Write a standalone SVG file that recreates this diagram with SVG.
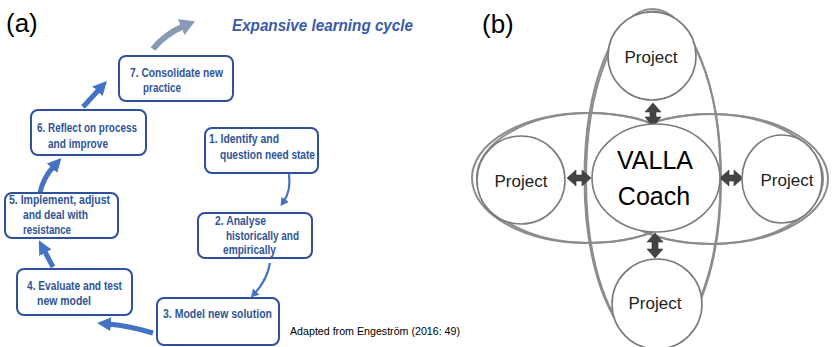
<svg xmlns="http://www.w3.org/2000/svg" width="833" height="347" viewBox="0 0 833 347">
<style>
.lbl{font-family:"Liberation Sans",Arial,sans-serif;fill:#000}
.box{fill:#fff;stroke:#2F509C;stroke-width:2}
.bt{font-family:"Liberation Sans",Arial,sans-serif;font-weight:bold;font-size:12.5px;fill:#2F5597}
.thick{fill:none;stroke:#4472C4;stroke-width:5}
.thin{fill:none;stroke:#4472C4;stroke-width:2.2}
.ring{fill:none;stroke:#8C8C8C;stroke-width:2}
.circ{fill:#fff;stroke:#7A7A7A;stroke-width:1.6}
.pt{font-family:"Liberation Sans",Arial,sans-serif;font-size:17px;fill:#222;text-anchor:middle}
.dbl{fill:#444;stroke:#333;stroke-width:0.6}
</style>
<defs>
<marker id="hThick" markerUnits="userSpaceOnUse" markerWidth="16" markerHeight="16" refX="3" refY="8" orient="auto" viewBox="0 0 16 16">
<path d="M0,1 L14,8 L0,15 z" fill="#4472C4"/>
</marker>
<marker id="hThin" markerUnits="userSpaceOnUse" markerWidth="10" markerHeight="10" refX="2" refY="5" orient="auto" viewBox="0 0 10 10">
<path d="M0,0.5 L8,5 L0,9.5 z" fill="#4472C4"/>
</marker>
<marker id="hGray" markerUnits="userSpaceOnUse" markerWidth="18" markerHeight="18" refX="3" refY="9" orient="auto" viewBox="0 0 18 18">
<path d="M0,0.5 L15,9 L0,17.5 z" fill="#8A9AB4"/>
</marker>
</defs>
<rect width="833" height="347" fill="#fff"/>

<!-- Panel (a) -->
<text class="lbl" x="6" y="32" font-size="26">(a)</text>
<text x="232" y="31" font-family="Liberation Sans,Arial,sans-serif" font-weight="bold" font-style="italic" font-size="16.5" fill="#3A5BA8" textLength="181" lengthAdjust="spacingAndGlyphs">Expansive learning cycle</text>

<g id="connectors-a">
<path d="M153,49 Q165,34 184,26" fill="none" stroke="#8A9AB4" stroke-width="6" marker-end="url(#hGray)"/>
<path class="thick" d="M83,107 L99.5,89" marker-end="url(#hThick)"/>
<path class="thick" d="M40,193 Q43,178 54,166" marker-end="url(#hThick)"/>
<path class="thick" d="M53,267 L44,250" marker-end="url(#hThick)"/>
<path class="thick" d="M153,333 Q130,326 108,324" marker-end="url(#hThick)"/>
<path class="thin" d="M289,174 Q291,191 284,201" marker-end="url(#hThin)"/>
<path class="thin" d="M270,263 Q267,280 255,293" marker-end="url(#hThin)"/>
</g>

<g id="step7">
<rect class="box" x="119" y="56" width="114" height="45" rx="7"/>
<text class="bt" x="130" y="77" textLength="93" lengthAdjust="spacingAndGlyphs">7. Consolidate new</text>
<text class="bt" x="143" y="92" textLength="38" lengthAdjust="spacingAndGlyphs">practice</text>
</g>
<g id="step6">
<rect class="box" x="31" y="110" width="115" height="45" rx="7"/>
<text class="bt" x="37" y="132" textLength="100" lengthAdjust="spacingAndGlyphs">6. Reflect on process</text>
<text class="bt" x="48" y="148" textLength="60" lengthAdjust="spacingAndGlyphs">and improve</text>
</g>
<g id="step1">
<rect class="box" x="205" y="128" width="113" height="45" rx="7"/>
<text class="bt" x="209" y="143" textLength="70" lengthAdjust="spacingAndGlyphs">1. Identify and</text>
<text class="bt" x="220" y="159" textLength="95" lengthAdjust="spacingAndGlyphs">question need state</text>
</g>
<g id="step5">
<rect class="box" x="5" y="193" width="113" height="45" rx="7"/>
<text class="bt" x="9" y="204" textLength="101" lengthAdjust="spacingAndGlyphs">5. Implement, adjust</text>
<text class="bt" x="23" y="219" textLength="65" lengthAdjust="spacingAndGlyphs">and deal with</text>
<text class="bt" x="23" y="234" textLength="48" lengthAdjust="spacingAndGlyphs">resistance</text>
</g>
<g id="step2">
<rect class="box" x="198" y="213" width="114" height="45" rx="7"/>
<text class="bt" x="215" y="225" textLength="51" lengthAdjust="spacingAndGlyphs">2. Analyse</text>
<text class="bt" x="226" y="240" textLength="73" lengthAdjust="spacingAndGlyphs">historically and</text>
<text class="bt" x="223" y="254" textLength="53" lengthAdjust="spacingAndGlyphs">empirically</text>
</g>
<g id="step4">
<rect class="box" x="17" y="269" width="115" height="46" rx="7"/>
<text class="bt" x="27" y="290" textLength="95" lengthAdjust="spacingAndGlyphs">4. Evaluate and test</text>
<text class="bt" x="37" y="305" textLength="54" lengthAdjust="spacingAndGlyphs">new model</text>
</g>
<g id="step3">
<rect class="box" x="157" y="298" width="122" height="47" rx="7"/>
<text class="bt" x="163" y="318" textLength="109" lengthAdjust="spacingAndGlyphs">3. Model new solution</text>
</g>
<text class="lbl" x="290" y="335" font-size="11.5" fill="#111" textLength="170" lengthAdjust="spacingAndGlyphs">Adapted from Engeström (2016: 49)</text>

<!-- Panel (b) -->
<text class="lbl" x="482" y="33" font-size="26">(b)</text>

<g id="rings">
<ellipse class="ring" cx="652.5" cy="178" rx="68" ry="169"/>
<ellipse class="ring" cx="653.5" cy="179.5" rx="67.5" ry="168"/>
<ellipse class="ring" cx="588" cy="178" rx="116" ry="65"/>
<ellipse class="ring" cx="590" cy="178" rx="113" ry="65"/>
<ellipse class="ring" cx="712" cy="179" rx="116" ry="65"/>
<ellipse class="ring" cx="710" cy="179" rx="113" ry="65"/>
</g>

<g id="connectors-b">
<polygon class="dbl" points="653,103 661,112 656,112 656,117 661,117 653,127 645,117 650,117 650,112 645,112"/>
<polygon class="dbl" points="655,233 663,242 658,242 658,249 663,249 655,258 647,249 652,249 652,242 647,242"/>
<polygon class="dbl" points="567,178 576,170 576,175 582,175 582,170 591,178 582,186 582,181 576,181 576,186"/>
<polygon class="dbl" points="720,178 729,170 729,175 734,175 734,170 743,178 734,186 734,181 729,181 729,186"/>
</g>

<g id="coach">
<ellipse class="circ" cx="656" cy="178" rx="64" ry="54"/>
<text class="lbl" x="655" y="169" font-size="25" text-anchor="middle" fill="#111">VALLA</text>
<text class="lbl" x="654" y="205" font-size="25" text-anchor="middle" fill="#111">Coach</text>
</g>
<g id="project-top">
<circle class="circ" cx="652" cy="56" r="44"/>
<text class="pt" x="651" y="63">Project</text>
</g>
<g id="project-left">
<circle class="circ" cx="521" cy="180" r="44"/>
<text class="pt" x="521" y="187">Project</text>
</g>
<g id="project-right">
<ellipse class="circ" cx="782" cy="179" rx="40" ry="44"/>
<text class="pt" x="787" y="186">Project</text>
</g>
<g id="project-bottom">
<circle class="circ" cx="657" cy="304" r="45"/>
<text class="pt" x="655" y="309">Project</text>
</g>
</svg>
